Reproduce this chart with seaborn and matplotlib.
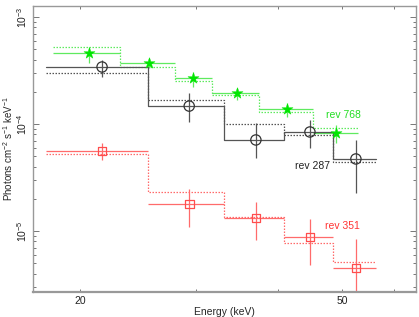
import numpy as np
import pandas as pd
import matplotlib
matplotlib.use('Agg')
import matplotlib.pyplot as plt
import matplotlib.ticker as mticker
import seaborn as sns

# rev 287 (black)
e287_edges = [17.77, 25.4, 33.1, 40.8, 48.5, 56.4]
e287 = [21.6, 29.3, 37.0, 44.7, 52.5]
f287 = [3.41e-4, 1.47e-4, 7.09e-5, 8.42e-5, 4.71e-5]
f287_hi = [3.96e-4, 1.95e-4, 1.02e-4, 1.09e-4, 7.09e-5]
f287_lo = [2.75e-4, 1.04e-4, 4.81e-5, 5.97e-5, 2.26e-5]
m287 = [3.0e-4, 1.67e-4, 1.0e-4, 7.89e-5, 4.42e-5]

# rev 768 (green)
e768_edges = [18.2, 23.0, 27.9, 31.7, 37.4, 45.2, 52.9]
e768 = [20.6, 25.5, 29.7, 34.6, 41.3, 49.0]
f768 = [4.61e-4, 3.72e-4, 2.69e-4, 1.95e-4, 1.38e-4, 8.24e-5]
f768_hi = [5.25e-4, 4.14e-4, 3.06e-4, 2.17e-4, 1.57e-4, 9.79e-5]
f768_lo = [3.72e-4, 3.33e-4, 2.22e-4, 1.67e-4, 1.16e-4, 6.64e-5]
m768 = [5.25e-4, 3.41e-4, 2.52e-4, 1.87e-4, 1.29e-4, 9.18e-5]

# rev 351 (red)
e351_edges = [17.77, 25.4, 33.1, 40.8, 48.5, 56.4]
e351 = [21.6, 29.3, 37.0, 44.7, 52.5]
f351 = [5.6e-5, 1.79e-5, 1.32e-5, 8.79e-6, 4.51e-6]
f351_hi = [6.64e-5, 2.47e-5, 1.87e-5, 1.29e-5, 8.41e-6]
f351_lo = [4.61e-5, 1.09e-5, 8.24e-6, 4.81e-6, 2.2e-6]
m351 = [5.25e-5, 2.31e-5, 1.35e-5, 7.73e-6, 5.13e-6]

sns.set_style("ticks")
plt.rcParams['font.family'] = ['Liberation Sans', 'DejaVu Sans']
plt.rcParams['mathtext.default'] = 'regular'

fig = plt.figure(figsize=(4.19, 3.17), dpi=100)
ax = fig.add_axes([0.079, 0.079, 0.914, 0.902])


def spectrum(edges, e, f, lo, hi, model, color, mcolor, marker, ms, step_data):
    edges = np.array(edges)
    f = np.array(f)
    # model histogram (dotted)
    mdf = pd.DataFrame({'E': edges, 'F': list(model) + [model[-1]]})
    sns.lineplot(data=mdf, x='E', y='F', ax=ax, drawstyle='steps-post',
                 color=color, lw=0.9, ls=(0, (1.2, 1.2)), estimator=None, sort=False)
    # data
    if step_data:
        ddf = pd.DataFrame({'E': edges, 'F': list(f) + [f[-1]]})
        sns.lineplot(data=ddf, x='E', y='F', ax=ax, drawstyle='steps-post',
                     color=color, lw=0.9, estimator=None, sort=False)
    xerr = [np.array(e) - edges[:-1], edges[1:] - np.array(e)]
    yerr = [f - np.array(lo), np.array(hi) - f]
    ax.errorbar(e, f, xerr=None if step_data else xerr, yerr=yerr, fmt='none',
                ecolor=color, elinewidth=0.9, capsize=0)
    sdf = pd.DataFrame({'E': e, 'F': f})
    if marker == '*':
        sns.scatterplot(data=sdf, x='E', y='F', ax=ax, marker='*', s=ms,
                        color=mcolor, edgecolor=mcolor, linewidth=0.3, zorder=5)
    else:
        sns.scatterplot(data=sdf, x='E', y='F', ax=ax, marker=marker, s=ms,
                        facecolor='none', edgecolor=mcolor, linewidth=0.9, zorder=5)


spectrum(e768_edges, e768, f768, f768_lo, f768_hi, m768, '#5fea5f', '#00e600', '*', 70, False)
spectrum(e287_edges, e287, f287, f287_lo, f287_hi, m287, '#555555', '#333333', 'o', 55, True)
spectrum(e351_edges, e351, f351, f351_lo, f351_hi, m351, '#ff6b6b', '#ff4d4d', 's', 40, False)

ax.text(50.2, 1.21e-4, 'rev 768', color='#22dd22', fontsize=7.5, ha='center', va='center')
ax.text(45.1, 4.05e-5, 'rev 287', color='#222222', fontsize=7.5, ha='center', va='center')
ax.text(50.0, 1.11e-5, 'rev 351', color='#ff3333', fontsize=7.5, ha='center', va='center')

ax.set_xscale('log')
ax.set_yscale('log')
ax.set_xlim(16.97, 64.8)
ax.set_ylim(2.69e-6, 1.267e-3)

ax.xaxis.set_major_locator(mticker.FixedLocator([20, 50]))
ax.xaxis.set_major_formatter(mticker.FixedFormatter(['20', '50']))
ax.xaxis.set_minor_locator(mticker.FixedLocator([30, 40, 60]))
ax.xaxis.set_minor_formatter(mticker.NullFormatter())

ax.yaxis.set_major_locator(mticker.FixedLocator([1e-5, 1e-4, 1e-3]))
ax.yaxis.set_major_formatter(mticker.FixedFormatter(['10$^{-5}$', '10$^{-4}$', '10$^{-3}$']))
ax.yaxis.set_minor_locator(mticker.LogLocator(base=10, subs=np.arange(2, 10), numticks=20))
ax.yaxis.set_minor_formatter(mticker.NullFormatter())
for lab in ax.get_yticklabels():
    lab.set_rotation(90)
    lab.set_va('center')

ax.tick_params(which='both', direction='in', top=True, right=True, colors='#777777',
               labelcolor='#222222', labelsize=7.5, width=0.7, pad=3)
ax.tick_params(which='major', length=4)
ax.tick_params(which='minor', length=2)
ax.tick_params(axis='x', which='both', length=2.5)

for sp in ax.spines.values():
    sp.set_color('#999999')
    sp.set_linewidth(1.0)
ax.spines['bottom'].set_linewidth(1.6)

ax.set_xlabel('Energy (keV)', fontsize=7.5, va='center')
ax.xaxis.set_label_coords(0.5, -0.07)
ax.set_ylabel('Photons cm$^{-2}$ s$^{-1}$ keV$^{-1}$', fontsize=7, va='center')
ax.yaxis.set_label_coords(-0.064, 0.5)

fig.savefig('out.png', dpi=100)
